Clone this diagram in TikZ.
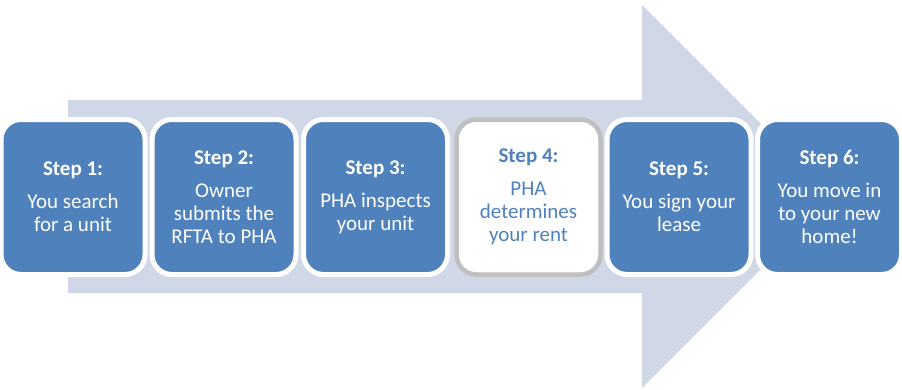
\documentclass[tikz,border=0pt]{standalone}
\usepackage{fontspec}
\setmainfont{Carlito}
\definecolor{stepblue}{HTML}{4F81BD}
\definecolor{arrowfill}{HTML}{D0D8E8}
\definecolor{graybd}{HTML}{BFBFBF}
\tikzset{
  stepbox/.style={rectangle, rounded corners=20pt, minimum width=144pt, minimum height=155pt,
    inner sep=0pt, line width=5pt, draw=white, fill=stepblue, text=white, align=center,
    font=\fontsize{21}{23}\selectfont},
  activebox/.style={stepbox, draw=graybd, line width=4.5pt, fill=white, text=stepblue}
}
\begin{document}
\begin{tikzpicture}[x=1pt,y=-1pt]
\useasboundingbox (0,0) rectangle (902,389);
\fill[arrowfill] (68,100) -- (642,100) -- (642,5) -- (833.5,196.5) -- (642,388) -- (642,293) -- (68,293) -- cycle;
\node[stepbox] (s1) at (73,197) {\textbf{Step 1:}\\[10pt]You search\\for a unit};
\node[stepbox] (s2) at (224,197) {\textbf{Step 2:}\\[10pt]Owner\\submits the\\RFTA to PHA};
\node[stepbox] (s3) at (375.5,197) {\textbf{Step 3:}\\[10pt]PHA inspects\\your unit};
\node[activebox] (s4) at (528.5,197) {\textbf{Step 4:}\\[10pt]PHA\\determines\\your rent};
\node[stepbox] (s5) at (679,197) {\textbf{Step 5:}\\[10pt]You sign your\\lease};
\node[stepbox] (s6) at (829.5,197) {\textbf{Step 6:}\\[10pt]You move in\\to your new\\home!};
\end{tikzpicture}
\end{document}
